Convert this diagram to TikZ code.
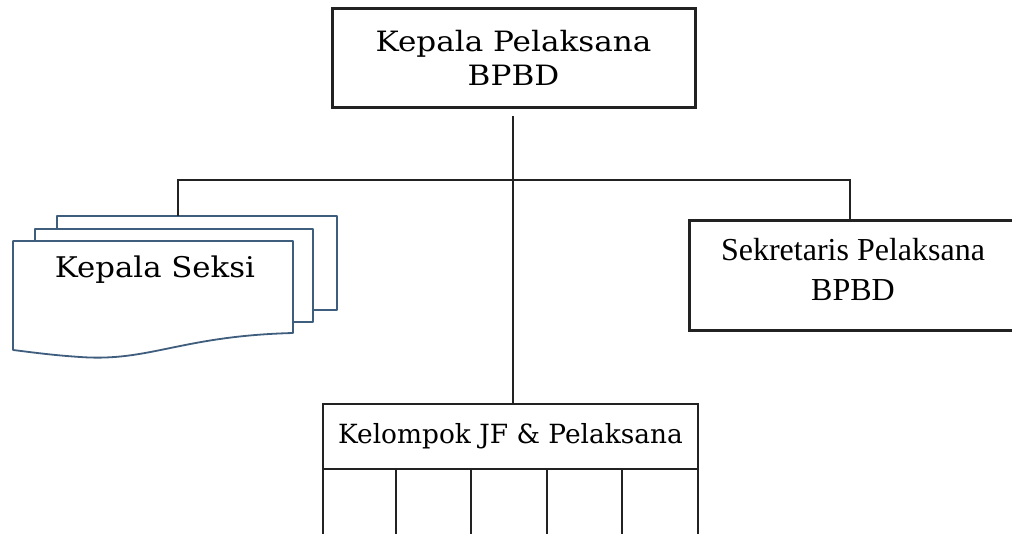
\documentclass[tikz,border=0pt]{standalone}
\usepackage{graphicx}
\usepackage{fontspec}
\setmainfont{DejaVu Serif}
\newfontfamily\timesf{Liberation Serif}
\definecolor{docblue}{HTML}{3F5D7D}
\definecolor{ink}{HTML}{222222}
\newcommand{\wide}[2]{\scalebox{#1}[1]{#2}}
\begin{document}
\begin{tikzpicture}[x=1pt,y=-1pt,
  thickbox/.style={draw=ink,line width=3pt,fill=white,inner sep=0pt,align=center},
  thinbox/.style={draw=ink,line width=1.4pt,fill=white,inner sep=0pt,align=center},
  conn/.style={draw=ink,line width=1.2pt},
  docpage/.style={draw=docblue,line width=1.8pt,fill=white,line join=round}]
\useasboundingbox (0,0) rectangle (1012,534);
\clip (0,0) rectangle (1012,534);
% top box
\node[thickbox,minimum width=363pt,minimum height=99pt,font=\fontsize{28}{34}\selectfont] (kp) at (513.5,58) {\wide{1.11}{Kepala Pelaksana}\\\wide{1.11}{BPBD}};
% sekretaris
\node[thickbox,minimum width=330pt,minimum height=110pt,anchor=north west] (sek) at (688,219) {};
\node[font=\timesf\fontsize{32}{40}\selectfont,align=center,inner sep=0pt] (sekt) at (853,269) {Sekretaris Pelaksana\\BPBD};
% kelompok
\node[thinbox,minimum width=375pt,minimum height=65pt,font=\fontsize{26.4}{30}\selectfont] (kel) at (510.5,436.5) {Kelompok JF \& Pelaksana};
\coordinate (c0) at (323,469);
\coordinate (c1) at (396,469);
\coordinate (c2) at (471,469);
\coordinate (c3) at (547,469);
\coordinate (c4) at (622,469);
\coordinate (c5) at (698,469);
\draw[ink,line width=1.4pt] (c0) -- (c0 |- 0,545) (c1) -- (c1 |- 0,545) (c2) -- (c2 |- 0,545) (c3) -- (c3 |- 0,545) (c4) -- (c4 |- 0,545) (c5) -- (c5 |- 0,545);
% multi document
\draw[docpage] (57,216) -- (337,216) -- (337,310) -- (57,310) -- cycle;
\draw[docpage] (35,229) -- (313,229) -- (313,322) -- (35,322) -- cycle;
\draw[docpage] (13,241) -- (293,241) -- (293,333) .. controls (180,336) and (150,362) .. (80,357) .. controls (50,355) and (30,352) .. (13,350) -- cycle;
\node[font=\fontsize{28.5}{32}\selectfont,inner sep=0pt] (ks) at (155,270) {\wide{1.08}{Kepala Seksi}};
\coordinate (doctop) at (178,216);
% connectors
\coordinate (jl) at (178,180);
\coordinate (jr) at (850,180);
\coordinate (jc) at (513,180);
\draw[conn] ([yshift=-7pt]kp.south -| jc) -- (jc |- kel.north);
\draw[conn] (doctop) -- (jl) -- (jr) -- (jr |- sek.north);
\end{tikzpicture}
\end{document}
